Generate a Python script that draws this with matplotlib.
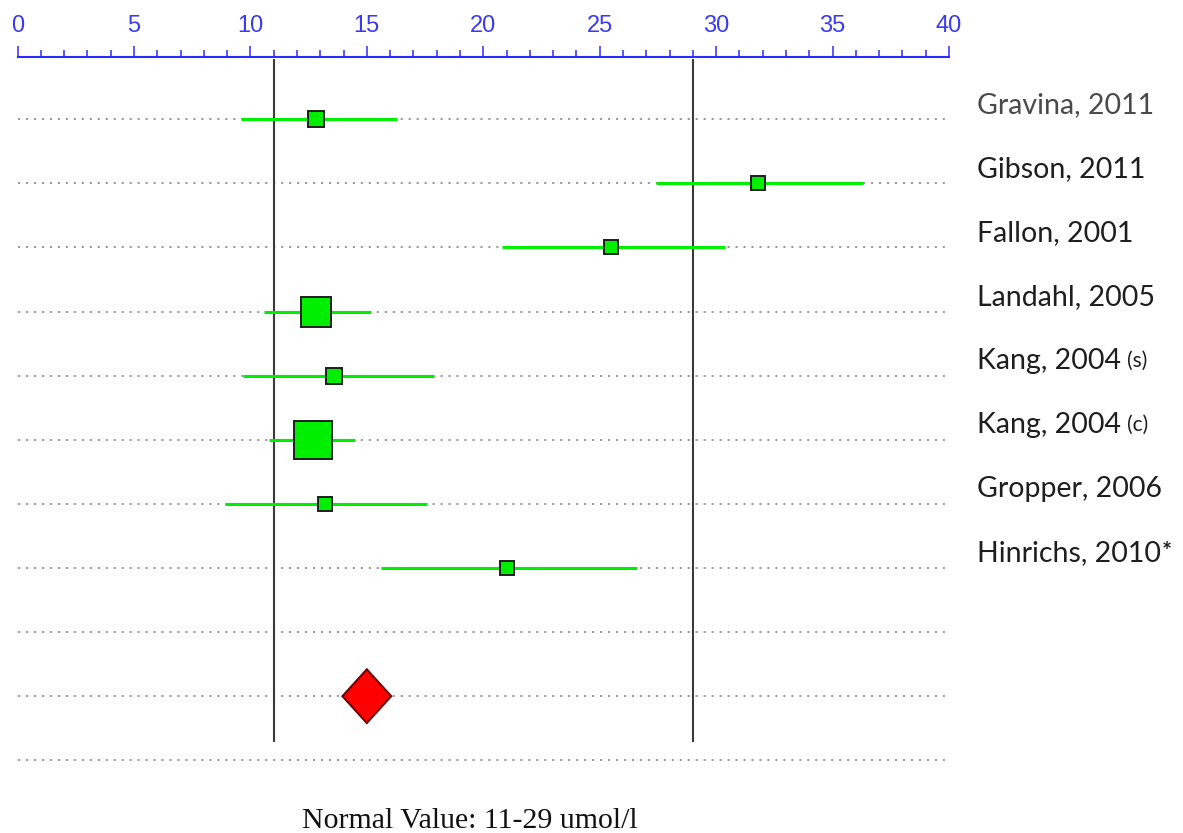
import numpy as np
import matplotlib.pyplot as plt

# study estimates (umol/l) with 95% CI and relative weight (%)
studies = ["Gravina, 2011", "Gibson, 2011", "Fallon, 2001", "Landahl, 2005",
           "Kang, 2004", "Kang, 2004", "Gropper, 2006", "Hinrichs, 2010"]
suffixes = ["", "", "", "", "(s)", "(c)", "", "*"]
means = [12.8, 31.8, 25.5, 12.8, 13.6, 12.7, 13.2, 21.0]
ci_lo = [9.6, 27.4, 20.8, 10.6, 9.7, 10.8, 8.9, 15.6]
ci_hi = [16.3, 36.3, 30.4, 15.2, 17.9, 14.5, 17.6, 26.6]
weights = [7.3, 5.7, 5.7, 24.3, 7.3, 38.4, 5.7, 5.7]

# pooled estimate
pooled = 15.0
pooled_lo, pooled_hi = 13.95, 16.05

normal_lo, normal_hi = 11, 29
n_rows = 11

W, H = 1183, 833
fig = plt.figure(figsize=(W / 100, H / 100), dpi=100)
ax = fig.add_axes([17.5 / W, 1 - 790 / H, 931.5 / W, (790 - 56.7) / H])
ax.set_xlim(0, 40)
ax.set_ylim((790 - 119.3) / 64.1, (56.7 - 119.3) / 64.1)

# dotted row guides
for r in range(n_rows):
    ax.plot([0, 40], [r, r], color="#999999", lw=1.4, dashes=[1.1, 3.0],
            zorder=1, clip_on=False)

# normal range limits
ax.vlines([normal_lo, normal_hi], -0.94, 9.72, color="#3a3a3a", lw=1.5, zorder=2)

rows = np.arange(len(studies))
for r, m, lo, hi, w in zip(rows, means, ci_lo, ci_hi, weights):
    ax.plot([lo, hi], [r, r], color="#00ee00", lw=2.2, zorder=3,
            solid_capstyle="butt")
    side = 6.3 * np.sqrt(w) - 1
    ax.plot(m, r, marker="s", ms=side * 0.72, mfc="#00ee00", mec="#1e1e1e",
            mew=1.4, zorder=4)

# pooled diamond
pr = 9
dh = 0.42
ax.fill([pooled_lo, pooled, pooled_hi, pooled], [pr, pr - dh, pr, pr + dh],
        facecolor="#ff0000", edgecolor="#6a0000", lw=1.4, zorder=4)

# study labels
for r, name, suf in zip(rows, studies, suffixes):
    col = "#4a4a4a" if r == 0 else "#1e1e1e"
    t = ax.text(41.2, r - 0.23, name, fontsize=20.5, family="Lato", color=col,
                ha="left", va="center", clip_on=False)
    if suf == "*":
        ax.annotate(suf, xy=(1, 0.97), xycoords=t, xytext=(0.5, 0),
                    textcoords="offset points", fontsize=17, ha="left",
                    va="top", color=col, family="Lato", weight="bold")
    elif suf:
        ax.annotate(suf, xy=(1, 0.27), xycoords=t, xytext=(4, 0),
                    textcoords="offset points", fontsize=15, ha="left",
                    va="baseline", color=col, family="Lato")

# top scale
for s in ["left", "right", "bottom"]:
    ax.spines[s].set_visible(False)
ax.spines["top"].set_color("#2b2bff")
ax.spines["top"].set_linewidth(1.5)
ax.xaxis.set_ticks_position("top")
ax.set_xticks(np.arange(0, 41, 5))
ax.set_xticks(np.arange(0, 41, 1), minor=True)
ax.tick_params(axis="x", which="major", direction="out", length=8, width=1.1,
               color="#2b2bff", labelcolor="#3a3af0", labelsize=17, pad=6.5)
ax.tick_params(axis="x", which="minor", direction="out", length=5, width=1.1,
               color="#2b2bff")
for lab in ax.get_xticklabels():
    lab.set_family("Liberation Sans")
ax.set_yticks([])

fig.text(470 / W, 5 / H, "Normal Value: 11-29 umol/l", family="Liberation Serif",
         fontsize=21.5, ha="center", va="baseline", color="#111111")

fig.savefig("out.png", dpi=100)
